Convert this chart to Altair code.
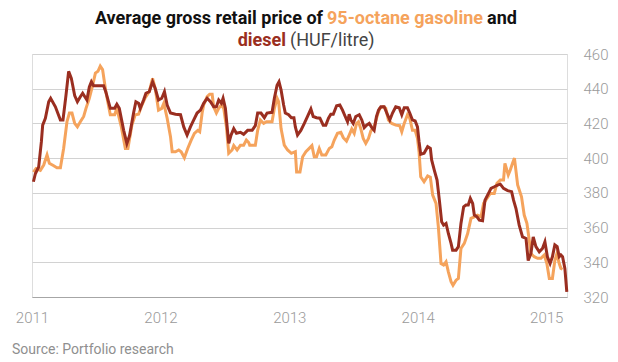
import altair as alt
import pandas as pd

# decimal-year positions and prices (HUF/litre)
diesel_t = [2011.011, 2011.026, 2011.052, 2011.073, 2011.083, 2011.104, 2011.130, 2011.145, 2011.182, 2011.221,
            2011.241, 2011.264, 2011.285, 2011.306, 2011.332, 2011.353, 2011.376, 2011.394, 2011.427, 2011.446,
            2011.462, 2011.479, 2011.557, 2011.575, 2011.609, 2011.643, 2011.660, 2011.679, 2011.713, 2011.738,
            2011.759, 2011.790, 2011.808, 2011.829, 2011.842, 2011.868, 2011.886, 2011.912, 2011.938, 2011.959,
            2011.984, 2012.010, 2012.031, 2012.052, 2012.078, 2012.117, 2012.156, 2012.181, 2012.207, 2012.233,
            2012.259, 2012.285, 2012.311, 2012.336, 2012.363, 2012.389, 2012.414, 2012.435, 2012.453, 2012.474,
            2012.487, 2012.505, 2012.531, 2012.549, 2012.570, 2012.591, 2012.622, 2012.647, 2012.678, 2012.713,
            2012.738, 2012.756, 2012.782, 2012.808, 2012.829, 2012.868, 2012.886, 2012.907, 2012.922, 2012.938,
            2012.958, 2012.971, 2012.997, 2013.016, 2013.036, 2013.047, 2013.064, 2013.090, 2013.117, 2013.142,
            2013.168, 2013.186, 2013.212, 2013.238, 2013.264, 2013.284, 2013.305, 2013.323, 2013.342, 2013.368,
            2013.393, 2013.414, 2013.435, 2013.453, 2013.466, 2013.479, 2013.497, 2013.517, 2013.544, 2013.564,
            2013.583, 2013.601, 2013.622, 2013.642, 2013.660, 2013.678, 2013.694, 2013.712, 2013.738, 2013.764,
            2013.782, 2013.803, 2013.828, 2013.855, 2013.875, 2013.894, 2013.919, 2013.937, 2013.958, 2013.979,
            2013.997, 2014.010, 2014.023, 2014.049, 2014.077, 2014.098, 2014.108, 2014.129, 2014.150, 2014.168,
            2014.186, 2014.201, 2014.220, 2014.238, 2014.259, 2014.271, 2014.298, 2014.316, 2014.336, 2014.357,
            2014.375, 2014.393, 2014.409, 2014.427, 2014.440, 2014.461, 2014.479, 2014.504, 2014.523, 2014.543,
            2014.570, 2014.595, 2014.621, 2014.642, 2014.667, 2014.699, 2014.730, 2014.745, 2014.764, 2014.789,
            2014.815, 2014.842, 2014.859, 2014.880, 2014.898, 2014.919, 2014.945, 2014.970, 2014.989, 2015.009,
            2015.030, 2015.048, 2015.067, 2015.085, 2015.101, 2015.114, 2015.127, 2015.145, 2015.160]
diesel_v = [386.4, 391, 395, 409.5, 419, 423, 432.5, 434.5, 429.6, 422,
            422, 436, 450, 446, 436, 432.5, 435.4, 437.4, 433.5, 441,
            444, 441.7, 441.7, 438, 428.7, 428.7, 431, 428.7, 416, 408.5,
            413, 426, 432.5, 431.6, 428.7, 433.5, 437.4, 438.3, 444, 440,
            433.5, 434.5, 438.3, 430.6, 426, 425.3, 425, 418, 413.3, 418,
            422, 426, 427.7, 431.6, 434.5, 432.5, 429.6, 429.6, 433.5, 431.6,
            434.5, 428.7, 408.5, 413.3, 417, 414.3, 414.9, 413.7, 416, 416,
            418.7, 426, 426, 423.3, 426, 426.4, 434.5, 442, 444, 439.3,
            430.6, 426, 425, 423.3, 423.3, 418, 413.3, 416, 420, 424,
            428.3, 424, 423.3, 423, 419, 419, 423, 425.3, 425.3, 430.2,
            430.6, 427.7, 424, 421, 425.3, 422, 420, 424, 425, 422,
            417.6, 419, 420, 417.6, 416, 424, 427.7, 429.6, 429.6, 425,
            422, 426, 429.6, 429, 425, 429, 429, 426, 422, 421.4,
            418, 409.5, 402.2, 402.8, 406.6, 405.6, 399, 393, 387.4, 375.8,
            363.3, 361.4, 362.4, 356.6, 350.9, 347, 347, 349, 362.4, 372,
            373, 373, 376.8, 373.9, 367.2, 366.2, 364.3, 363.9, 375.8, 378.7,
            382.6, 383.5, 384.5, 385, 382.6, 381.3, 380.7, 375.8, 371, 361.4,
            354.6, 353.7, 341, 345, 354.6, 349, 346, 348, 351.8, 343.2,
            339.3, 343.2, 350, 349, 343.2, 344.2, 343.2, 336.5, 323]

gasoline_t = [2011.011, 2011.031, 2011.065, 2011.091, 2011.117, 2011.135, 2011.169, 2011.194, 2011.221, 2011.246,
              2011.272, 2011.291, 2011.311, 2011.332, 2011.353, 2011.376, 2011.402, 2011.420, 2011.446, 2011.472,
              2011.493, 2011.513, 2011.531, 2011.549, 2011.575, 2011.609, 2011.643, 2011.660, 2011.695, 2011.726,
              2011.746, 2011.777, 2011.803, 2011.829, 2011.855, 2011.881, 2011.912, 2011.938, 2011.959, 2011.984,
              2012.010, 2012.026, 2012.052, 2012.078, 2012.091, 2012.117, 2012.142, 2012.161, 2012.186, 2012.212,
              2012.239, 2012.264, 2012.290, 2012.305, 2012.324, 2012.336, 2012.363, 2012.383, 2012.402, 2012.414,
              2012.435, 2012.453, 2012.474, 2012.492, 2012.513, 2012.531, 2012.557, 2012.570, 2012.596, 2012.622,
              2012.647, 2012.668, 2012.686, 2012.694, 2012.738, 2012.756, 2012.777, 2012.803, 2012.824, 2012.868,
              2012.886, 2012.907, 2012.919, 2012.938, 2012.963, 2012.989, 2013.016, 2013.047, 2013.057, 2013.083,
              2013.104, 2013.129, 2013.155, 2013.176, 2013.194, 2013.212, 2013.233, 2013.253, 2013.284, 2013.311,
              2013.331, 2013.350, 2013.375, 2013.401, 2013.420, 2013.445, 2013.466, 2013.486, 2013.505, 2013.523,
              2013.538, 2013.556, 2013.575, 2013.595, 2013.616, 2013.634, 2013.660, 2013.686, 2013.704, 2013.730,
              2013.750, 2013.771, 2013.797, 2013.828, 2013.859, 2013.875, 2013.894, 2013.919, 2013.937, 2013.958,
              2013.979, 2013.997, 2014.010, 2014.023, 2014.049, 2014.077, 2014.098, 2014.116, 2014.142, 2014.160,
              2014.181, 2014.201, 2014.220, 2014.238, 2014.259, 2014.274, 2014.298, 2014.316, 2014.336, 2014.362,
              2014.388, 2014.414, 2014.440, 2014.465, 2014.492, 2014.512, 2014.538, 2014.564, 2014.595, 2014.616,
              2014.642, 2014.667, 2014.678, 2014.704, 2014.719, 2014.737, 2014.752, 2014.777, 2014.807, 2014.828,
              2014.849, 2014.867, 2014.880, 2014.906, 2014.932, 2014.958, 2014.984, 2015.005, 2015.024, 2015.048,
              2015.067, 2015.083, 2015.101, 2015.114, 2015.127]
gasoline_v = [392, 394, 393, 396, 401.8, 397, 395.6, 394.5, 394.5, 405.6,
              421, 426, 426, 420, 418, 421, 424, 428.7, 434.5, 442,
              449, 450, 453, 451, 438, 425, 425, 428.7, 418, 405.6,
              405.6, 419, 425, 425.3, 430.6, 434.8, 438.3, 446, 440, 427.7,
              428.7, 431.6, 423, 412.4, 403.7, 403.7, 404.7, 403.7, 400.2, 405.6,
              410.4, 414.3, 416, 415.2, 426, 430.6, 435.4, 436.8, 436.8, 429.6,
              426, 428.7, 430.6, 428.7, 418, 402.8, 404.7, 407.2, 404.7, 407.5,
              407.5, 410.4, 409, 407.5, 407.5, 416, 422, 420, 421, 421,
              428.7, 434.5, 432.5, 417, 407.5, 404.7, 402.8, 403.7, 392, 392,
              400.8, 403.7, 405.6, 407.2, 400.8, 400.8, 405.6, 401.8, 401.8, 405.6,
              406.6, 410.4, 414.3, 414.9, 411.8, 409.8, 413.3, 416.8, 414.3, 420,
              421, 417, 411.4, 408.5, 411.4, 415.6, 418, 425, 428.7, 429.6,
              428.7, 422, 420, 419, 418.7, 415.2, 420, 425, 423, 416,
              416, 411.4, 403.7, 389.3, 386.4, 389.7, 389, 378.7, 373.9, 360.5,
              339.3, 338.4, 340.3, 334.5, 328.8, 326.8, 329.7, 330.7, 348, 350.9,
              356.6, 365.3, 366.2, 367.2, 366.2, 373.9, 376.8, 379.7, 379.7, 385.5,
              387.4, 387.4, 397, 390.3, 393, 397, 400, 384.5, 377.7, 367.2,
              362.4, 352.8, 345, 343.2, 342.3, 342.3, 344.2, 339.3, 330.7, 330.7,
              341, 345, 339.3, 336.5, 336]

y_ticks = [320, 340, 360, 380, 400, 420, 440, 460]
x_ticks = ["2011-01-01", "2012-01-01", "2013-01-01", "2014-01-01", "2015-01-01"]

GAS = "#F5A35C"
DIESEL = "#9A2E20"


def to_dt(t):
    y = int(t)
    return pd.Timestamp(year=y, month=1, day=1) + pd.Timedelta(days=(t - y) * 365.25)


df_d = pd.DataFrame({"date": [to_dt(t) for t in diesel_t], "price": diesel_v})
df_g = pd.DataFrame({"date": [to_dt(t) for t in gasoline_t], "price": gasoline_v})

W, H = 535, 243

x = alt.X("date:T", title=None,
          scale=alt.Scale(domain=["2011-01-01", "2015-03-01"]),
          axis=alt.Axis(values=[pd.Timestamp(v) for v in x_ticks], format="%Y", grid=False,
                        ticks=False, domain=True, domainColor="#a6a6a6", domainWidth=1,
                        labelColor="#9a9a9a", labelFontSize=15, labelFont="Roboto",
                        labelFontWeight=300, labelPadding=13, labelFlush=False))
y = alt.Y("price:Q", title=None,
          scale=alt.Scale(domain=[320, 460], nice=False, zero=False),
          axis=alt.Axis(orient="right", values=y_ticks, grid=True, gridColor="#d2d2d2",
                        ticks=False, domain=False, labelColor="#9a9a9a", labelFontSize=15,
                        labelFont="Roboto", labelFontWeight=300, labelPadding=16))

gas = alt.Chart(df_g).mark_line(color=GAS, strokeWidth=3, interpolate="linear").encode(x=x, y=y)
die = alt.Chart(df_d).mark_line(color=DIESEL, strokeWidth=3, interpolate="linear").encode(x=x, y=y)


def txt(s, xv, yv, align, color, weight="bold", size=18):
    return alt.Chart(pd.DataFrame({"t": [s]})).mark_text(
        align=align, baseline="alphabetic", font="Roboto", fontSize=size,
        fontWeight=weight, color=color
    ).encode(text="t:N", x=alt.value(xv), y=alt.value(yv))


B1 = 295
title_parts = [
    txt("Average gross retail price of", B1 - 4, -30, "right", "#111111"),
    txt("95-octane gasoline", B1, -30, "left", GAS),
    txt("and", B1 + 160, -30, "left", "#111111"),
    txt("diesel", 254, -8, "right", DIESEL),
    txt("(HUF/litre)", 258, -8, "left", "#444444", weight="normal"),
    txt("Source: Portfolio research", -20, 300, "left", "#8f8f8f", weight="normal", size=14),
]

chart = alt.layer(gas, die, *title_parts).properties(
    width=W, height=H,
    autosize=alt.AutoSizeParams(type="none"),
    padding={"left": 24, "top": 46, "right": 43, "bottom": 62},
).configure_view(strokeWidth=0).configure(background="white")

chart.save("out.html", embed_options={"renderer": "svg", "actions": False})
